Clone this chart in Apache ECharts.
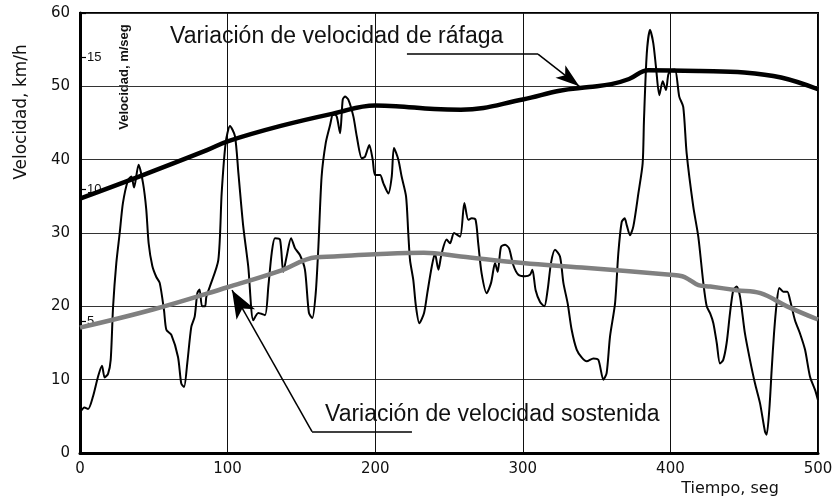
<!DOCTYPE html>
<html>
<head>
<meta charset="utf-8">
<script src="https://cdn.jsdelivr.net/npm/echarts@6/dist/echarts.min.js"></script>
<style>
  html, body { margin: 0; padding: 0; background: #fff; }
  #chart { width: 838px; height: 504px; }
</style>
</head>
<body>
<div id="chart"></div>
<script>
// ticks
var timeTicks = [0, 100, 200, 300, 400, 500];
var kmhTicks = [0, 10, 20, 30, 40, 50, 60];
var msTicks = [5, 10, 15];

// velocidad instantanea (seg, km/h)
var rawTime = [0, 3, 5.5, 8.8, 12.2, 14.9, 16.7, 19, 20.8, 22.4, 24.6, 26.9, 29.1, 32.5, 34.8, 36.6, 39.7, 42.7, 44.9, 46.5,
  49, 51.7, 54, 56.9, 58.5, 61.9, 66.4, 68.6, 70.5, 72.7, 75.4, 77.7, 79.5, 81, 82.7, 84.7, 85.6, 88, 93.7, 96,
  98.7, 101.6, 105, 107.3, 110.6, 114, 117.4, 120.8, 125.3, 127.6, 129.9, 132.1, 135.5, 137.7, 140, 143, 145.7, 149, 152.4, 155.1,
  157.4, 159.7, 161.5, 163.7, 166.5, 169.4, 171.6, 173.9, 176.2, 178, 179.5, 181.8, 185.2, 187.5, 190.9, 193.1, 196, 198.3, 199.9, 203.3,
  205.5, 208.9, 211.2, 212.7, 215.7, 217.9, 220.9, 222.4, 223.6, 225.8, 227.6, 229.9, 233.1, 235.3, 238.3, 240.5, 242.8, 245, 248.4, 250.7,
  253.4, 257.5, 260.4, 263.1, 265.4, 268, 269.8, 272.1, 275.5, 278.5, 281.2, 283, 285.2, 288, 290.7, 293.6, 297, 301.5, 304.9, 306.5,
  308.7, 311.7, 314.6, 316.8, 319.1, 321.8, 325.2, 327.5, 330.4, 333.1, 336.5, 340, 343.3, 347.8, 351.2, 354.6, 356.8, 359.1, 362.5, 364.7,
  367, 369, 370.5, 372.6, 374.9, 378.3, 381.2, 382.1, 384, 386.2, 388.4, 390.2, 392.5, 394.8, 397, 398.6, 400.5, 403.1, 406, 408.7,
  411, 415.5, 418.9, 422.3, 424.6, 427, 429.1, 431.4, 433.6, 435.8, 438.1, 440.4, 442.6, 444.9, 447.2, 450.5, 453.9, 457.3, 460.7, 464.1,
  465.2, 467, 468.6, 470.2, 472, 473.8, 476.5, 479.2, 481, 484.4, 487.8, 491.2, 494.6, 498, 500];
var rawSpeed = [5.5, 6.2, 6, 7.7, 10.4, 11.9, 10.3, 10.8, 12.7, 19.9, 25.9, 30, 34.1, 37.2, 37.7, 36.2, 39.3, 36.8, 33.2, 28.6,
  25.5, 24, 23.2, 19.5, 16.8, 16.1, 13.1, 9.5, 9.0, 12.3, 17.2, 18.6, 21.8, 22.3, 20, 20, 21.3, 22.7, 26.3, 35.5,
  42.3, 44.6, 43.2, 38.2, 30.9, 25.4, 18.1, 19.1, 18.8, 22.7, 27.3, 29.3, 29.1, 24.7, 26.8, 29.3, 27.9, 27, 25, 19.1,
  18.4, 21.8, 28.1, 37.7, 42.3, 44.7, 46.3, 45.9, 43.6, 48.2, 48.6, 48.2, 45.9, 43.2, 40.2, 40.4, 42.0, 40, 37.9, 37.9,
  36.8, 35.4, 37.7, 41.6, 40, 37.7, 35, 30, 26.3, 23.6, 20, 17.7, 19.1, 21.8, 25.4, 27.2, 25, 27.2, 29.1, 28.6,
  30, 29.5, 34.1, 31.8, 32, 31.8, 28.6, 24.5, 21.8, 23.2, 25.9, 24.7, 28.1, 28.4, 27.9, 25.6, 24.3, 24.1, 24.3, 25,
  22.2, 20.6, 20, 22.2, 25.9, 27.7, 26.8, 23.2, 20.4, 16.8, 14.1, 13, 12.5, 12.9, 12.7, 10, 10.9, 15.9, 20.4, 27.2,
  31.5, 32, 31, 29.7, 30.9, 35.4, 39.5, 45.4, 54.5, 57.7, 55.9, 52.7, 48.8, 50.7, 49.5, 51.6, 52.2, 52.3, 48.6, 47.2,
  40.9, 33.6, 29.5, 23.2, 20, 19, 17.7, 15, 12.2, 12.7, 15, 19.1, 22.2, 22.7, 21.3, 16.3, 12.7, 9.5, 6.8, 2.9,
  2.5, 5.9, 11.3, 16.3, 20.4, 22.5, 22, 22, 20.9, 18.1, 16.3, 14.1, 10.4, 8.6, 7.2];

// envolvente de rafaga
var gustTime = [0, 40, 86, 100, 136, 172, 200, 214, 240, 258, 300, 325, 345, 360, 372, 385, 420, 450, 475, 500];
var gustSpeed = [34.7, 37.7, 41.3, 42.5, 44.6, 46.3, 47.4, 47.3, 46.9, 46.8, 48.2, 49.4, 49.9, 50.3, 51.0, 52.2, 52.1, 51.9, 51.2, 49.6];

// velocidad sostenida
var sustTime = [0, 50, 100, 135, 160, 172, 200, 233, 258, 300, 340, 400, 408, 413, 419, 427, 445, 461, 479, 500];
var sustSpeed = [17.1, 19.6, 22.6, 24.8, 26.7, 26.8, 27.1, 27.3, 26.8, 25.9, 25.3, 24.3, 24.1, 23.6, 22.9, 22.7, 22.2, 21.8, 20.0, 18.2];

// leader lines of the two notes (seg, km/h)
var gustLeader = [[221.5, 54.4], [310.3, 54.4], [338.3, 50.0]];
var sustLeader = [[224.9, 2.9], [157.2, 2.9], [103, 22.2]];

function pairs(xs, ys) {
  return xs.map(function (x, i) { return [x, ys[i]]; });
}

function leaderLines(pts, arrowSize) {
  return [
    [{ coord: pts[0], symbol: 'none' }, { coord: pts[1], symbol: 'none' }],
    [{ coord: pts[1], symbol: 'none' }, { coord: pts[2], symbol: 'arrow', symbolSize: arrowSize }]
  ];
}

var chart = echarts.init(document.getElementById('chart'));

var axisFont = 'DejaVu Sans';

var option = {
  animation: false,
  backgroundColor: '#fff',
  grid: {
    left: 80, right: 20, top: 13, bottom: 51,
    show: true, borderColor: '#000', borderWidth: 2,
    outerBoundsMode: 'none'
  },
  xAxis: {
    type: 'value',
    min: timeTicks[0], max: timeTicks[timeTicks.length - 1], interval: 100,
    axisLine: { show: true, lineStyle: { color: '#000', width: 3 } },
    axisTick: { show: false },
    axisLabel: { color: '#111', fontFamily: axisFont, fontSize: 15, margin: 9 },
    splitLine: { show: true, lineStyle: { color: '#111', width: 1 } }
  },
  yAxis: [
    {
      type: 'value',
      min: kmhTicks[0], max: kmhTicks[kmhTicks.length - 1], interval: 10,
      axisLine: { show: true, lineStyle: { color: '#000', width: 3 } },
      axisTick: { show: false },
      axisLabel: { color: '#111', fontFamily: axisFont, fontSize: 15, margin: 10 },
      splitLine: { show: true, lineStyle: { color: '#333', width: 1 } }
    },
    {
      type: 'value',
      position: 'left',
      min: 0, max: 60 / 3.6, interval: 5,
      axisLine: { show: false },
      axisTick: { show: true, inside: true, length: 6, lineStyle: { color: '#000', width: 1.2 } },
      axisLabel: {
        inside: true, margin: 7, color: '#111', fontFamily: 'Liberation Sans', fontSize: 13,
        formatter: function (v) { return msTicks.indexOf(v) >= 0 ? String(v) : ''; }
      },
      splitLine: { show: false }
    }
  ],
  series: [
    {
      name: 'Velocidad',
      type: 'line',
      data: pairs(rawTime, rawSpeed),
      showSymbol: false,
      smooth: 0.25,
      lineStyle: { color: '#000', width: 2 },
      z: 2
    },
    {
      name: 'Variación de velocidad de ráfaga',
      type: 'line',
      data: pairs(gustTime, gustSpeed),
      showSymbol: false,
      smooth: 0.4,
      lineStyle: { color: '#000', width: 4.5 },
      z: 3,
      markLine: {
        silent: true,
        symbol: ['none', 'none'],
        label: { show: false },
        lineStyle: { color: '#000', width: 1.5, type: 'solid' },
        data: leaderLines(gustLeader, [12, 24])
      }
    },
    {
      name: 'Variación de velocidad sostenida',
      type: 'line',
      data: pairs(sustTime, sustSpeed),
      showSymbol: false,
      smooth: 0.4,
      lineStyle: { color: '#808080', width: 4.5 },
      z: 4,
      markLine: {
        silent: true,
        symbol: ['none', 'none'],
        label: { show: false },
        lineStyle: { color: '#000', width: 1.5, type: 'solid' },
        data: leaderLines(sustLeader, [16, 28])
      }
    }
  ],
  graphic: [
    {
      type: 'text', x: 22, y: 112, rotation: Math.PI / 2,
      style: { text: 'Velocidad, km/h', fontFamily: axisFont, fontSize: 17, fill: '#111', align: 'center', verticalAlign: 'middle' }
    },
    {
      type: 'text', x: 124, y: 77, rotation: Math.PI / 2,
      style: { text: 'Velocidad, m/seg', fontFamily: 'Liberation Sans', fontSize: 13, fontWeight: 'bold', fill: '#111', align: 'center', verticalAlign: 'middle' }
    },
    {
      type: 'text', x: 730, y: 489,
      style: { text: 'Tiempo, seg', fontFamily: axisFont, fontSize: 16, fill: '#111', align: 'center', verticalAlign: 'middle' }
    },
    {
      type: 'text', x: 170, y: 37,
      style: { text: 'Variación de velocidad de ráfaga', fontFamily: 'Liberation Sans', fontSize: 23, fill: '#111', align: 'left', verticalAlign: 'middle' }
    },
    {
      type: 'text', x: 325, y: 415,
      style: { text: 'Variación de velocidad sostenida', fontFamily: 'Liberation Sans', fontSize: 23, fill: '#111', align: 'left', verticalAlign: 'middle' }
    }
  ]
};

chart.setOption(option);
</script>
</body>
</html>
